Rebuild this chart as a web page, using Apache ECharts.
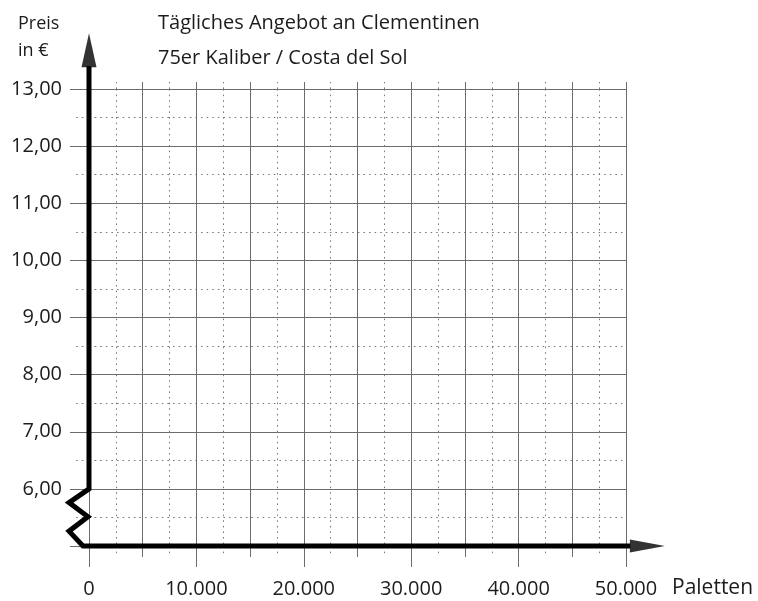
<!DOCTYPE html>
<html><head><meta charset="utf-8">
<script src="https://cdn.jsdelivr.net/npm/echarts@6/dist/echarts.min.js"></script>
<style>html,body{margin:0;padding:0;background:#fff}#c{width:758px;height:601px}</style>
</head><body><div id="c"></div>
<script>
// ---- texts ----
const titleLines = ['Tägliches Angebot an Clementinen', '75er Kaliber / Costa del Sol'];
const yAxisTitleLines = ['Preis', 'in €'];
const xAxisTitle = 'Paletten';
// ---- axis ranges / steps ----
const xMin = 0, xMax = 50000, xGridStep = 5000, xLabelStep = 10000;
const yMin = 5, yMax = 13, yStep = 1;
// ---- decorative axis drawing (data units): y-axis line, axis-break zigzag, x-axis line ----
const axisPath = [[0, 13.4], [0, 6], [-1860, 5.76], [-100, 5.51], [-1860, 5.26], [-560, 5], [50400, 5]];
const yArrowHead = [[0, 13.68]];
const xArrowHead = [[51990, 5]];

const FONT = '"Open Sans", "Noto Sans", sans-serif';
const TXT = '#1c1c1c';
const GRID = '#6c6c6c';
const DOT = '#7a7a7a';
const dotted = [1.6, 4];

function fmtX(v) { return String(v).replace(/\B(?=(\d{3})+(?!\d))/g, '.'); }
function fmtY(v) { return v.toFixed(2).replace('.', ','); }

const chart = echarts.init(document.getElementById('c'), null, {renderer: 'canvas'});
const common = {type: 'value', axisLine: {show: false}};
chart.setOption({
  animation: false,
  backgroundColor: '#fff',
  textStyle: {fontFamily: FONT},
  title: [
    {text: titleLines.join('\n'), left: 153, top: 1,
     textStyle: {fontFamily: FONT, fontSize: 20, fontWeight: 'normal', color: TXT, lineHeight: 35}},
    {text: yAxisTitleLines.join('\n'), left: 13, top: 5,
     textStyle: {fontFamily: FONT, fontSize: 18, fontWeight: 'normal', color: TXT, lineHeight: 27}}
  ],
  grid: {left: 89, right: 132, top: 89, bottom: 55, containLabel: false},
  xAxis: [
    Object.assign({}, common, {
      min: xMin, max: xMax, interval: xGridStep, position: 'bottom',
      axisTick: {show: true, length: 11, lineStyle: {color: GRID, width: 1}},
      axisLabel: {show: false},
      splitLine: {show: true, lineStyle: {color: GRID, width: 1}},
      minorTick: {show: true, splitNumber: 2, length: 11, lineStyle: {color: DOT, width: 1, type: dotted}},
      minorSplitLine: {show: true, lineStyle: {color: DOT, width: 1, type: dotted}}
    }),
    Object.assign({}, common, {
      min: xMin, max: xMax, interval: xLabelStep, position: 'bottom',
      axisTick: {show: true, length: 21, lineStyle: {color: GRID, width: 1}},
      axisLabel: {show: true, margin: 33, fontSize: 20, color: TXT, fontFamily: FONT, formatter: fmtX},
      splitLine: {show: false},
      name: xAxisTitle, nameLocation: 'end', nameGap: 46,
      nameTextStyle: {fontSize: 21, color: TXT, fontFamily: FONT, verticalAlign: 'top', padding: [32, 0, 0, 0]}
    }),
    Object.assign({}, common, {
      min: xMin, max: xMax, interval: xGridStep, position: 'top',
      axisTick: {show: true, length: 7, lineStyle: {color: GRID, width: 1}},
      axisLabel: {show: false},
      splitLine: {show: false},
      minorTick: {show: true, splitNumber: 2, length: 7, lineStyle: {color: DOT, width: 1, type: dotted}}
    })
  ],
  yAxis: [
    Object.assign({}, common, {
      min: yMin, max: yMax, interval: yStep, position: 'left',
      axisTick: {show: true, length: 19, lineStyle: {color: GRID, width: 1}},
      axisLabel: {show: true, margin: 27, fontSize: 20, color: TXT, fontFamily: FONT, formatter: fmtY, showMinLabel: false},
      splitLine: {show: true, lineStyle: {color: GRID, width: 1}},
      minorTick: {show: true, splitNumber: 2, length: 16, lineStyle: {color: DOT, width: 1, type: dotted}},
      minorSplitLine: {show: true, lineStyle: {color: DOT, width: 1, type: dotted}}
    }),
    Object.assign({}, common, {
      min: yMin, max: yMax, interval: yStep, position: 'right',
      axisTick: {show: true, length: 12, lineStyle: {color: GRID, width: 1}},
      axisLabel: {show: false},
      splitLine: {show: false},
      minorTick: {show: true, splitNumber: 2, length: 12, lineStyle: {color: DOT, width: 1, type: dotted}}
    })
  ],
  series: [
    {type: 'lines', coordinateSystem: 'cartesian2d', xAxisIndex: 0, yAxisIndex: 0, polyline: true,
     clip: false, silent: true, data: [{coords: axisPath}],
     lineStyle: {color: '#000', width: 5, opacity: 1, cap: 'butt', join: 'miter'}},
    {type: 'scatter', xAxisIndex: 0, yAxisIndex: 0, data: yArrowHead, clip: false, silent: true,
     symbol: 'triangle', symbolSize: [15, 34], itemStyle: {color: '#000'}},
    {type: 'scatter', xAxisIndex: 0, yAxisIndex: 0, data: xArrowHead, clip: false, silent: true,
     symbol: 'triangle', symbolRotate: -90, symbolSize: [13, 35], itemStyle: {color: '#000'}}
  ]
});
</script>
</body></html>
